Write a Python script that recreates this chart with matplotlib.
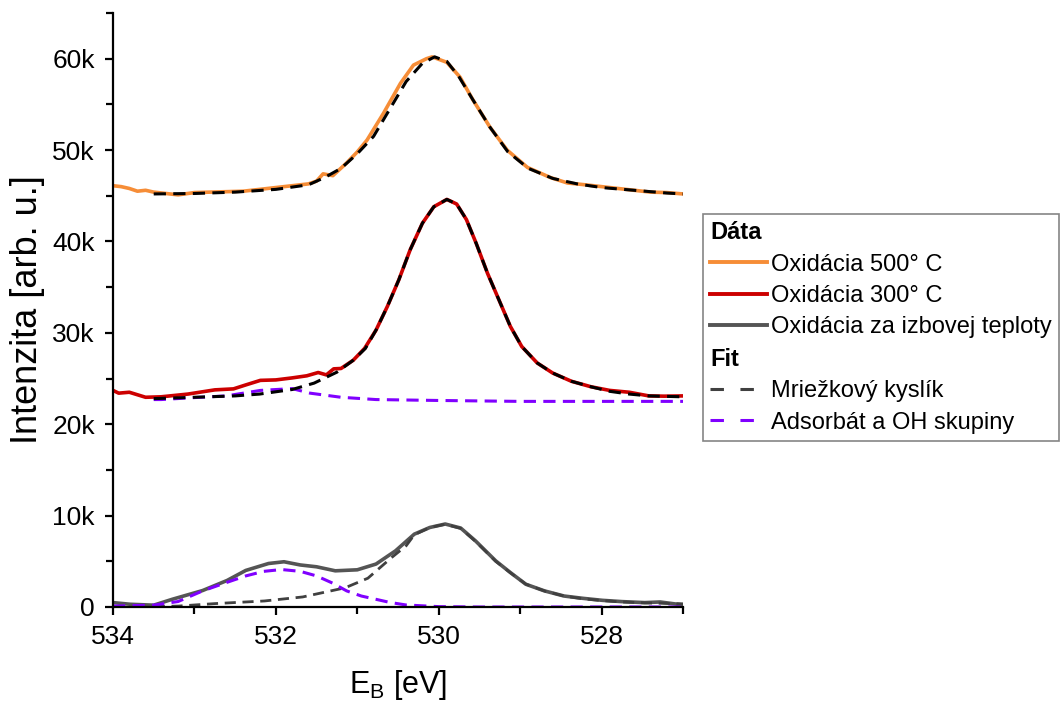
import numpy as np
import matplotlib
matplotlib.use("Agg")
import matplotlib.pyplot as plt
from matplotlib.lines import Line2D
from matplotlib.ticker import MultipleLocator, FuncFormatter

plt.rcParams['font.family'] = ['Liberation Sans', 'DejaVu Sans']

# --- data (E_B in eV, intensity in counts) ---
e_500 = [534.0, 533.9, 533.8, 533.7, 533.6, 533.5, 533.4, 533.2, 533.0, 532.8, 532.6, 532.4,
         532.2, 532.0, 531.8, 531.6, 531.5, 531.42, 531.3, 531.13, 531.0, 530.88, 530.68,
         530.47, 530.31, 530.15, 530.08, 529.9, 529.74, 529.58, 529.37, 529.16, 528.91,
         528.63, 528.42, 528.2, 528.0, 527.8, 527.6, 527.4, 527.2, 527.0]
i_500 = [46100, 46000, 45800, 45500, 45600, 45400, 45300, 45100, 45350, 45400, 45450, 45500,
         45700, 45900, 46100, 46300, 46600, 47400, 47200, 48600, 49800, 51100, 54000,
         57300, 59300, 60000, 60200, 59600, 58000, 55500, 52500, 50000, 48100,
         47000, 46400, 46200, 46000, 45800, 45600, 45400, 45350, 45200]

e_300 = [534.0, 533.93, 533.8, 533.6, 533.41, 533.08, 532.75, 532.52, 532.37, 532.19, 532.0,
         531.8, 531.62, 531.48, 531.38, 531.29, 531.2, 531.05, 530.91, 530.77, 530.63,
         530.49, 530.35, 530.2, 530.06, 529.9, 529.78, 529.66, 529.54, 529.4, 529.26,
         529.12, 528.98, 528.79, 528.6, 528.37, 528.13, 527.9, 527.66, 527.42, 527.23, 527.0]
i_300 = [23700, 23400, 23500, 22950, 23000, 23300, 23760, 23870, 24300, 24800, 24850,
         25070, 25300, 25660, 25400, 26060, 26100, 27000, 28300, 30300, 32900,
         35800, 39100, 42000, 43800, 44600, 44100, 42400, 39800, 36500, 33600,
         30700, 28500, 26700, 25600, 24700, 24100, 23700, 23500, 23100, 23070, 23100]

e_rt = [534.0, 533.79, 533.5, 533.27, 532.9, 532.6, 532.37, 532.09, 531.9, 531.7, 531.5,
        531.27, 531.0, 530.77, 530.53, 530.3, 530.11, 529.92, 529.73, 529.55, 529.3,
        529.12, 528.93, 528.7, 528.46, 528.23, 527.99, 527.75, 527.47, 527.28, 527.0]
i_rt = [480, 300, 200, 850, 1800, 2900, 4000, 4760, 4950, 4600, 4400,
        3960, 4070, 4700, 6150, 7970, 8700, 9080, 8640, 7250, 5050,
        3770, 2490, 1760, 1200, 950, 730, 590, 480, 550, 220]

# fits
e_fit_500 = [533.5, 533.0, 532.5, 532.0, 531.6, 531.4, 531.2, 531.0, 530.8, 530.6, 530.4,
             530.2, 530.05, 529.9, 529.75, 529.58, 529.37, 529.15, 528.9, 528.6, 528.3,
             528.0, 527.6, 527.2, 527.0]
i_fit_500 = [45200, 45250, 45400, 45700, 46200, 47000, 48000, 49600, 51500, 54500, 57500,
             59500, 60200, 59700, 58000, 55500, 52500, 49800, 48000, 46900, 46300,
             45900, 45600, 45300, 45200]

e_fit_300 = [533.5, 533.0, 532.5, 532.2, 531.8, 531.53, 531.25, 531.05, 530.9, 530.77,
             530.63, 530.49, 530.35, 530.2, 530.06, 529.9, 529.78, 529.66, 529.54, 529.4,
             529.26, 529.12, 528.98, 528.79, 528.6, 528.37, 528.13, 527.9, 527.66, 527.42, 527.0]
i_fit_300 = [22800, 22950, 23100, 23300, 23800, 24500, 25700, 27000, 28300, 30300,
             32900, 35800, 39100, 42000, 43800, 44600, 44100, 42400, 39800, 36500,
             33600, 30700, 28500, 26700, 25600, 24700, 24100, 23600, 23300, 23100, 23000]
e_ads_300 = [533.5, 533.41, 533.03, 532.61, 532.19, 531.8, 531.58, 531.2, 530.77, 530.0, 529.0, 527.0]
i_ads_300 = [22700, 22700, 22900, 23100, 23700, 23900, 23400, 22950, 22700, 22600, 22500, 22500]

e_lat_rt = [533.5, 533.2, 532.75, 532.14, 531.67, 531.15, 530.87, 530.58, 530.4, 530.3,
            530.11, 529.92, 529.73, 529.55, 529.3, 529.12, 528.93, 528.7, 528.46, 528.23,
            527.99, 527.75, 527.47, 527.0]
i_lat_rt = [50, 100, 370, 660, 1100, 2100, 3150, 5400, 6700, 7900,
            8700, 9050, 8600, 7200, 5000, 3750, 2500, 1750, 1200, 900,
            700, 550, 450, 350]
e_ads_rt = [534.0, 533.5, 533.2, 532.9, 532.6, 532.37, 532.15, 531.93, 531.7, 531.5, 531.3,
            531.13, 530.95, 530.77, 530.6, 530.4, 530.0, 529.5, 527.0]
i_ads_rt = [100, 200, 600, 1760, 2700, 3400, 3900, 4100, 3900, 3400, 2600,
            1760, 1200, 840, 500, 220, 40, 0, 0]

c_500 = "#F68D37"
c_300 = "#CC0000"
c_rt = "#555555"
c_lat = "#404040"
c_ads = "#8000FF"

fig = plt.figure(figsize=(10.62, 7.02), dpi=100)
ax = fig.add_axes([113 / 1062, 1 - 607 / 702, 570 / 1062, 594 / 702])

lw = 2.6
dash = (4, 2.4)
ax.plot(e_500, i_500, color=c_500, lw=lw)
ax.plot(e_300, i_300, color=c_300, lw=lw)
ax.plot(e_rt, i_rt, color=c_rt, lw=lw)

ax.plot(e_fit_500, i_fit_500, color="black", lw=2.2, dashes=dash)
ax.plot(e_ads_300, i_ads_300, color=c_ads, lw=2.2, dashes=dash)
ax.plot(e_fit_300, i_fit_300, color="black", lw=2.2, dashes=dash)
ax.plot(e_lat_rt, i_lat_rt, color=c_lat, lw=2.0, dashes=dash)
ax.plot(e_ads_rt, i_ads_rt, color=c_ads, lw=2.2, dashes=dash)

# osi
ax.set_xlim(534, 527)
ax.set_ylim(0, 65000)
ax.xaxis.set_major_locator(MultipleLocator(2))
ax.xaxis.set_minor_locator(MultipleLocator(1))
ax.yaxis.set_major_locator(MultipleLocator(10000))
ax.yaxis.set_minor_locator(MultipleLocator(5000))
ax.yaxis.set_major_formatter(FuncFormatter(lambda v, p: "0" if v == 0 else "%dk" % (v / 1000)))
ax.spines["top"].set_visible(False)
ax.spines["right"].set_visible(False)
for s in ("left", "bottom"):
    ax.spines[s].set_linewidth(1.6)
ax.tick_params(which="both", direction="out", width=1.6, labelsize=19, pad=7)
ax.tick_params(which="major", length=6)
ax.tick_params(which="minor", length=5)

ax.set_xlabel("E$_\\mathregular{B}$ [eV]", fontsize=22, labelpad=14)
ax.set_ylabel("Intenzita [arb. u.]", fontsize=26, labelpad=5)

# legenda so zahlaviami
blank = Line2D([], [], color="none")
handles = [blank,
           Line2D([], [], color=c_500, lw=2.8),
           Line2D([], [], color=c_300, lw=2.8),
           Line2D([], [], color=c_rt, lw=2.8),
           blank,
           Line2D([], [], color=c_lat, lw=2.2, dashes=(4.4, 5.4)),
           Line2D([], [], color=c_ads, lw=2.2, dashes=(4.4, 5.4))]
labels = ["Dáta", "Oxidácia 500° C", "Oxidácia 300° C", "Oxidácia za izbovej teploty",
          "Fit", "Mriežkový kyslík", "Adsorbát a OH skupiny"]
leg = fig.legend(handles, labels, loc="upper left", bbox_to_anchor=(703 / 1062, 1 - 214 / 702),
                 fontsize=17, frameon=True, fancybox=False, edgecolor="#666666",
                 handlelength=2.4, handletextpad=0.2, labelspacing=0.4, borderpad=0.3,
                 borderaxespad=0)
leg.get_frame().set_linewidth(1.2)
for k in (0, 4):
    leg.get_texts()[k].set_fontweight("bold")
# zahlavia bez miesta na ciaru
for vpack in leg._legend_handle_box.get_children():
    for hpack in vpack.get_children():
        txt = hpack.get_children()[1].get_children()[0]
        if txt.get_text() in ("Dáta", "Fit"):
            hpack.get_children()[0].set_width(0)
            hpack.sep = 0

fig.savefig("out.png", dpi=100)
